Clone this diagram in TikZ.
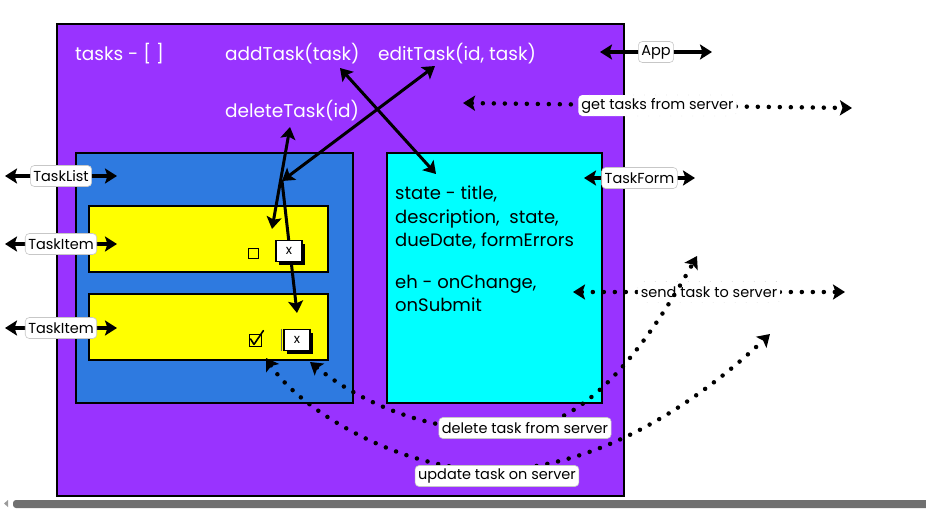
\documentclass[tikz,border=0pt]{standalone}
\usepackage{fontspec}
\setmainfont{Poppins}
\usetikzlibrary{arrows.meta,shadows}
\definecolor{apppurple}{RGB}{153,51,255}
\definecolor{listblue}{RGB}{46,122,224}
\definecolor{itemyellow}{RGB}{255,255,0}
\definecolor{formcyan}{RGB}{0,255,255}
\definecolor{barGray}{RGB}{112,112,112}
\begin{document}
\begin{tikzpicture}[x=1pt,y=-1pt,
  >={Stealth[length=12pt,width=15pt,inset=2.5pt]},
  box/.style={draw=black, line width=2pt, anchor=north west, inner sep=0pt},
  wtext/.style={text=white, inner sep=0pt, anchor=west, font=\fontsize{18.5}{22}\selectfont},
  lbl/.style={fill=white, draw=black!22, rounded corners=4pt, line width=0.6pt,
    inner xsep=3pt, inner ysep=2pt, minimum height=21pt, text=black,
    font=\fontsize{14.5}{15}\selectfont},
  solidarrow/.style={line width=3pt, line cap=round},
  labelarrow/.style={line width=3.5pt, <->},
  dotarrow/.style={line width=4.5pt, line cap=round, dash pattern=on 0pt off 11pt, <->},
  chk/.style={draw=black, line width=0.8pt, fill=itemyellow, inner sep=0pt},
  xbtn/.style={draw=black, fill=white, line width=1.5pt, inner sep=0pt,
    minimum width=26pt, minimum height=21pt, font=\fontsize{13}{13}\selectfont,
    drop shadow={shadow xshift=3pt, shadow yshift=-3pt, fill=black, opacity=1}}
]
\useasboundingbox (0,0) rectangle (926,509);
\fill[white] (0,0) rectangle (926,509);

% boxes
\node[box, fill=apppurple, minimum width=567pt, minimum height=472pt] (app) at (56,23) {};
\node[box, fill=listblue, minimum width=277pt, minimum height=250pt] (tasklist) at (75,152) {};
\node[box, fill=itemyellow, minimum width=239pt, minimum height=66pt] (item1) at (88,205) {};
\node[box, fill=itemyellow, minimum width=239pt, minimum height=66pt] (item2) at (88,293) {};
\node[box, fill=formcyan, minimum width=215pt, minimum height=250pt] (taskform) at (386,152) {};

% texts in App
\node[wtext] (tasksT) at (75,54) {tasks - [ ]};
\node[wtext] (addT) at (225,54) {addTask(task)};
\node[wtext] (editT) at (378,54) {editTask(id, task)};
\node[wtext] (delT) at (225,111) {deleteTask(id)};

% text in TaskForm
\node[anchor=north west, inner sep=0pt, align=left, font=\fontsize{18}{23.5}\selectfont] (formT) at (395,186)
  {state - title,\\ description, \ state,\\ dueDate, formErrors\\[18pt] eh - onChange,\\ onSubmit};

% checkboxes
\node[chk, minimum size=10pt] (cb1) at (253,253) {};
\node[chk, minimum size=12pt] (cb2) at (255,340) {};
\draw[line width=1.6pt, line cap=round, line join=round] ([shift={(2,-1)}]cb2.west) -- ([shift={(-1,-2)}]cb2.south) -- ([shift={(2,-3)}]cb2.north east);

% solid arrows
\coordinate (addA) at (340,68);
\coordinate (addB) at (436,174);
\coordinate (editA) at (435,66);
\coordinate (cross) at (282,181);
\coordinate (delA) at (290,127);
\coordinate (delB) at (272,229);
\coordinate (toX2) at (297,313);
\draw[solidarrow, <->] (addA) -- (addB);
\draw[solidarrow, <->] (editA) -- (cross);
\draw[solidarrow, <->] (delA) -- (delB);
\draw[solidarrow, ->] (cross) -- (toX2);

% x buttons (on top of the arrow)
\node[xbtn] (x1) at (289,251) {x};
\node[xbtn] (x2) at (297,340) {x};
\draw[black!60, line width=0.6pt] ([xshift=-2pt]x2.north west) -- ([xshift=-2pt]x2.south west);

% labelled arrows
\coordinate (appL) at (600,52);
\coordinate (appR) at (712,52);
\draw[labelarrow] (appL) -- node[lbl] (appLbl) {App} (appR);

\coordinate (getL) at (463,103);
\coordinate (getR) at (852,108);
\draw[dotarrow] (getL) -- node[lbl] (getLbl) {get tasks from server} (getR);

\coordinate (formL) at (584,178);
\coordinate (formR) at (695,178);
\draw[labelarrow] (formL) -- node[lbl] (formLbl) {TaskForm} (formR);

\coordinate (listL) at (5,176);
\coordinate (listR) at (117,176);
\draw[labelarrow] (listL) -- node[lbl] (listLbl) {TaskList} (listR);

\coordinate (itemAL) at (5,244);
\coordinate (itemAR) at (117,244);
\draw[labelarrow] (itemAL) -- node[lbl] (itemALbl) {TaskItem} (itemAR);

\coordinate (itemBL) at (5,328);
\coordinate (itemBR) at (117,328);
\draw[labelarrow] (itemBL) -- node[lbl] (itemBLbl) {TaskItem} (itemBR);

\coordinate (sendL) at (573,292);
\coordinate (sendR) at (845,292);
\draw[dotarrow] (sendL) -- node[lbl] (sendLbl) {send task to server} (sendR);

% delete task from server
\coordinate (delS) at (310,362);
\coordinate (delM) at (500,430);
\coordinate (delE) at (697,256);
\draw[dotarrow] (delS) .. controls (370,410) and (440,432) .. (delM)
  .. controls (570,435) and (630,375) .. (delE);
\node[lbl] (delLbl) at (525,428) {delete task from server};

% update task on server
\coordinate (updS) at (266,358);
\coordinate (updM) at (490,470);
\coordinate (updE) at (770,334);
\draw[dotarrow] (updS) .. controls (300,410) and (400,470) .. (updM)
  .. controls (600,470) and (700,400) .. (updE);
\node[lbl] (updLbl) at (497,476) {update task on server};

% scroll bar
\fill[barGray, rounded corners=3pt] (13,500) rectangle (940,508);
\fill[barGray!70] (4,503.5) -- (8,500) -- (8,507) -- cycle;
\end{tikzpicture}
\end{document}
